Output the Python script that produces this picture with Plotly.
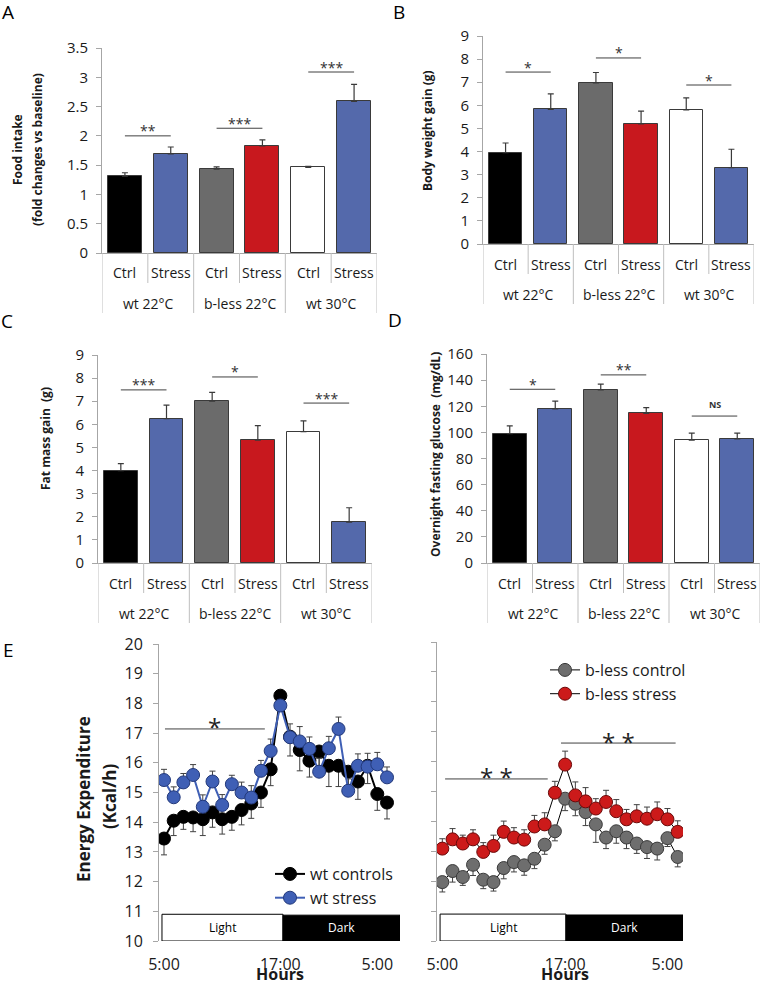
import plotly.graph_objects as go

W, H = 761, 982

# ---------------- data ----------------
groups = ["wt 22°C", "b-less 22°C", "wt 30°C"]
conds = ["Ctrl", "Stress", "Ctrl", "Stress", "Ctrl", "Stress"]
bar_colors = ["#000000", "#5469AB", "#6B6B6B", "#C8181E", "#FFFFFF", "#5469AB"]

food_mean = [1.31, 1.69, 1.43, 1.83, 1.46, 2.59]
food_err = [0.06, 0.12, 0.04, 0.10, 0.02, 0.29]
bw_mean = [3.95, 5.82, 6.97, 5.20, 5.80, 3.30]
bw_err = [0.42, 0.68, 0.45, 0.55, 0.52, 0.80]
fat_mean = [4.00, 6.25, 7.00, 5.32, 5.68, 1.77]
fat_err = [0.30, 0.58, 0.38, 0.62, 0.47, 0.62]
glu_mean = [99, 118, 132.5, 114.5, 94, 95]
glu_err = [6, 6, 4.5, 4.5, 5.5, 4.5]

# significance brackets: (from, to, level, label)
food_sig = [(0, 1, 2.00, "**"), (2, 3, 2.13, "***"), (4, 5, 3.09, "***")]
bw_sig = [(0, 1, 7.44, "*"), (2, 3, 8.05, "*"), (4, 5, 6.88, "*")]
fat_sig = [(0, 1, 7.49, "***"), (2, 3, 8.05, "*"), (4, 5, 6.92, "***")]
glu_sig = [(0, 1, 133, "*"), (2, 3, 144, "**"), (4, 5, 112.5, "NS")]

hours = list(range(24))
hour_ticks = [0, 12, 22]
hour_labels = ["5:00", "17:00", "5:00"]

wt_ctrl = [13.45, 14.05, 14.18, 14.16, 14.10, 14.33, 14.10, 14.18, 14.41, 14.63, 15.00, 15.78,
           18.26, 16.88, 16.43, 16.07, 16.38, 15.90, 15.90, 15.70, 15.37, 15.90, 14.95, 14.66]
wt_ctrl_err = [0.55, 0.50, 0.42, 0.48, 0.55, 0.50, 0.50, 0.45, 0.50, 0.50, 0.50, 0.55,
               0.50, 0.65, 0.70, 0.55, 0.50, 0.70, 0.70, 0.50, 0.60, 0.60, 0.55, 0.55]
wt_stress = [15.42, 14.84, 15.34, 15.59, 14.52, 15.37, 14.58, 15.28, 15.00, 14.83, 15.73, 16.40,
             17.93, 16.86, 16.72, 16.47, 15.70, 16.49, 17.14, 15.06, 15.90, 15.87, 15.95, 15.51]
wt_stress_err = [0.36, 0.35, 0.30, 0.35, 0.40, 0.35, 0.35, 0.30, 0.35, 0.40, 0.35, 0.40,
                 0.20, 0.45, 0.50, 0.40, 0.45, 0.40, 0.40, 0.40, 0.40, 0.45, 0.40, 0.35]
bl_ctrl = [11.97, 12.34, 12.14, 12.55, 12.05, 11.97, 12.44, 12.64, 12.53, 12.75, 13.22, 13.67,
           14.76, 14.59, 14.31, 13.90, 13.46, 13.67, 13.46, 13.26, 13.14, 13.09, 13.44, 12.81]
bl_ctrl_err = [0.33, 0.37, 0.28, 0.36, 0.30, 0.30, 0.36, 0.33, 0.33, 0.33, 0.32, 0.32,
               0.40, 0.40, 0.45, 0.60, 0.37, 0.40, 0.37, 0.33, 0.38, 0.38, 0.28, 0.33]
bl_stress = [13.09, 13.40, 13.26, 13.40, 12.98, 13.18, 13.65, 13.46, 13.39, 13.83, 13.90, 14.96,
             15.90, 14.87, 14.67, 14.43, 14.65, 14.34, 14.07, 14.17, 14.09, 14.24, 14.07, 13.65]
bl_stress_err = [0.33, 0.36, 0.28, 0.32, 0.31, 0.36, 0.36, 0.33, 0.33, 0.37, 0.39, 0.38,
                 0.45, 0.45, 0.46, 0.33, 0.39, 0.39, 0.33, 0.39, 0.39, 0.41, 0.36, 0.37]

# ---------------- helpers ----------------
FONT = "Open Sans"
AX = "#A6A6A6"
TXT = "#1a1a1a"


def px(x):
    return x / W


def py(y):
    return 1 - y / H


fig = go.Figure()
shapes = []
annos = []

bar_panels = [
    ("", food_mean, food_err, [0, 3.5], 0.5, (102, 377), (48, 253), food_sig,
     ["Food intake", "(fold changes vs baseline)"], [18, 38], 150),
    ("2", bw_mean, bw_err, [0, 9], 1, (483, 754), (36, 244), bw_sig,
     ["Body weight gain (g)"], [428], 131),
    ("3", fat_mean, fat_err, [0, 9], 1, (98, 372), (355, 563), fat_sig,
     ["Fat mass gain  (g)"], [45], 439),
    ("4", glu_mean, glu_err, [0, 160], 20, (487, 760), (354, 563), glu_sig,
     ["Overnight fasting glucose  (mg/dL)"], [435], 455),
]

layout_axes = {}
for suf, mean, err, yr, dt, xp, yp, sig, titles, tx, ty in bar_panels:
    xa = "x" + suf
    ya = "y" + suf
    fig.add_trace(go.Bar(
        x=list(range(6)), y=mean, width=0.74,
        marker=dict(color=bar_colors, line=dict(color="#3a3a3a", width=1)),
        error_y=dict(type="data", array=err, arrayminus=[0] * 6, symmetric=False,
                     color="#3a3a3a", thickness=1.2, width=3),
        xaxis=xa, yaxis=ya, showlegend=False, hoverinfo="skip"))
    layout_axes["xaxis" + suf] = dict(
        domain=[px(xp[0]), px(xp[1])], range=[-0.5, 5.5], anchor=ya,
        showline=True, linecolor=AX, linewidth=1, showticklabels=False,
        ticks="", showgrid=False, zeroline=False, fixedrange=True)
    layout_axes["yaxis" + suf] = dict(
        domain=[py(yp[1]), py(yp[0])], range=yr, dtick=dt, anchor=xa,
        showline=True, linecolor=AX, linewidth=1, ticks="outside", ticklen=5,
        tickcolor=AX, showgrid=False, zeroline=False, fixedrange=True,
        ticklabelstandoff=5, tickfont=dict(family=FONT, size=15, color=TXT))
    axis_px = yp[1]
    for k in range(7):
        depth = 60 if k % 2 == 0 else 30
        shapes.append(dict(type="line", xref=xa, yref="paper", x0=k - 0.5, x1=k - 0.5,
                           y0=py(axis_px), y1=py(axis_px + depth),
                           line=dict(color="#BFBFBF", width=1)))
    for i, c in enumerate(conds):
        annos.append(dict(x=i, y=py(axis_px + 20), xref=xa, yref="paper", text=c,
                          showarrow=False, font=dict(family=FONT, size=14, color=TXT)))
    for g, name in enumerate(groups):
        annos.append(dict(x=2 * g + 0.5, y=py(axis_px + 50), xref=xa, yref="paper", text=name,
                          showarrow=False, font=dict(family=FONT, size=14, color=TXT)))
    for a, b, lvl, lab in sig:
        shapes.append(dict(type="line", xref=xa, yref=ya, x0=a, x1=b, y0=lvl, y1=lvl,
                           line=dict(color="#404040", width=1)))
        if lab == "NS":
            annos.append(dict(x=(a + b) / 2, y=lvl, xref=xa, yref=ya, text="<b>NS</b>",
                              showarrow=False, yshift=12,
                              font=dict(family=FONT, size=9, color="#333")))
        else:
            annos.append(dict(x=(a + b) / 2, y=lvl, xref=xa, yref=ya, text=lab,
                              showarrow=False, yshift=5,
                              font=dict(family=FONT, size=14, color="#333")))
    for t, x in zip(titles, tx):
        annos.append(dict(x=px(x), y=py(ty), xref="paper", yref="paper", text="<b>" + t + "</b>",
                          textangle=-90, showarrow=False,
                          font=dict(family=FONT, size=12, color=TXT)))


def ee_trace(y, err, color, line_color, lw, edge, name, xa, ya, up, legend):
    ed = dict(type="data", symmetric=False, color="#404040", thickness=1, width=3)
    if up:
        ed.update(array=err, arrayminus=[0] * len(err))
    else:
        ed.update(array=[0] * len(err), arrayminus=err)
    return go.Scatter(x=hours, y=y, mode="lines+markers", name=name,
                      line=dict(color=line_color, width=lw),
                      marker=dict(size=13, color=color, line=dict(color=edge, width=1)),
                      error_y=ed, xaxis=xa, yaxis=ya, legend=legend, hoverinfo="skip")


fig.add_trace(ee_trace(wt_ctrl, wt_ctrl_err, "#000000", "#000000", 2, "#000000",
                       "wt controls", "x5", "y5", False, "legend"))
fig.add_trace(ee_trace(wt_stress, wt_stress_err, "#3F5FB5", "#3F5FB5", 2, "#23397a",
                       "wt stress", "x5", "y5", True, "legend"))
fig.add_trace(ee_trace(bl_ctrl, bl_ctrl_err, "#6E6E6E", "#000000", 1, "#3a3a3a",
                       "b-less control", "x6", "y6", False, "legend2"))
fig.add_trace(ee_trace(bl_stress, bl_stress_err, "#CC1A1A", "#000000", 1, "#6a0a0a",
                       "b-less stress", "x6", "y6", True, "legend2"))

ee_panels = [
    ("5", (159, 400), (644, 941), [-0.516, 24.34], True, (-0.21, 12.27, 24.34)),
    ("6", (437, 683), (642, 941), [-0.52, 23.52], False, (-0.22, 12.08, 23.52)),
]
for suf, xp, yp, xr, lab, box in ee_panels:
    xa, ya = "x" + suf, "y" + suf
    layout_axes["xaxis" + suf] = dict(
        domain=[px(xp[0]), px(xp[1])], range=xr, anchor=ya, showline=False,
        tickvals=hour_ticks, ticktext=hour_labels, ticks="", ticklabelstandoff=12,
        showgrid=False, zeroline=False, fixedrange=True,
        tickfont=dict(family=FONT, size=16, color=TXT))
    layout_axes["yaxis" + suf] = dict(
        domain=[py(yp[1]), py(yp[0])], range=[10, 20], dtick=1, anchor=xa,
        showline=True, linecolor=AX, linewidth=1, ticks="outside", ticklen=5,
        tickcolor=AX, showgrid=False, zeroline=False, fixedrange=True,
        ticklabelstandoff=7, showticklabels=lab, tickfont=dict(family=FONT, size=16, color=TXT))
    shapes.append(dict(type="rect", xref=xa, yref=ya, x0=box[0], x1=box[1], y0=10, y1=10.9,
                       fillcolor="#FFFFFF", line=dict(color="#000000", width=1), layer="below"))
    shapes.append(dict(type="rect", xref=xa, yref=ya, x0=box[1], x1=box[2], y0=10, y1=10.87,
                       fillcolor="#000000", line=dict(color="#000000", width=1), layer="below"))
    annos.append(dict(x=(box[0] + box[1]) / 2, y=10.45, xref=xa, yref=ya, text="Light",
                      showarrow=False, font=dict(family=FONT, size=12, color="#000")))
    annos.append(dict(x=(box[1] + box[2]) / 2, y=10.45, xref=xa, yref=ya, text="Dark",
                      showarrow=False, font=dict(family=FONT, size=12, color="#FFF")))
    annos.append(dict(x=12, y=py(974), xref=xa, yref="paper", text="<b>Hours</b>",
                      showarrow=False, font=dict(family=FONT, size=16, color=TXT)))

ee_sig = [("5", 0.1, 10.4, 17.14, "*"), ("6", 0.27, 10.3, 15.42, "* *"),
          ("6", 11.6, 22.8, 16.62, "* *")]
for suf, a, b, lvl, lab in ee_sig:
    shapes.append(dict(type="line", xref="x" + suf, yref="y" + suf, x0=a, x1=b, y0=lvl, y1=lvl,
                       line=dict(color="#404040", width=1)))
    annos.append(dict(x=(a + b) / 2, y=lvl, xref="x" + suf, yref="y" + suf, text=lab,
                      showarrow=False, yshift=2,
                      font=dict(family=FONT, size=24, color="#222")))

annos.append(dict(x=px(83), y=py(799), xref="paper", yref="paper", text="<b>Energy Expenditure</b>",
                  textangle=-90, showarrow=False, font=dict(family=FONT, size=17, color=TXT)))
annos.append(dict(x=px(109), y=py(797), xref="paper", yref="paper", text="<b>(Kcal/h)</b>",
                  textangle=-90, showarrow=False, font=dict(family=FONT, size=17, color=TXT)))

for letter, x, y in [("A", 8, 12), ("B", 399, 12), ("C", 7, 321), ("D", 395, 320), ("E", 8, 650)]:
    annos.append(dict(x=px(x), y=py(y), xref="paper", yref="paper", text=letter,
                      showarrow=False, font=dict(family=FONT, size=19, color="#000")))

for a in annos:
    a.setdefault("xanchor", "center")
    a.setdefault("yanchor", "middle")

fig.update_layout(
    width=W, height=H, margin=dict(l=0, r=0, t=0, b=0, autoexpand=False),
    paper_bgcolor="white", plot_bgcolor="rgba(0,0,0,0)",
    font=dict(family=FONT, color=TXT),
    shapes=shapes, annotations=annos, bargap=0,
    legend=dict(x=px(270), y=py(857), xanchor="left", yanchor="top",
                font=dict(family=FONT, size=16, color=TXT), bgcolor="rgba(0,0,0,0)",
                tracegroupgap=0, itemwidth=30),
    legend2=dict(x=px(545), y=py(653), xanchor="left", yanchor="top",
                 font=dict(family=FONT, size=16, color=TXT), bgcolor="rgba(0,0,0,0)",
                 tracegroupgap=0, itemwidth=30),
    **layout_axes,
)

fig.write_html("out.html", config={"displayModeBar": False},
               post_script="document.body.style.margin='0';document.body.style.padding='0';"
                           "document.body.style.overflow='hidden';")
